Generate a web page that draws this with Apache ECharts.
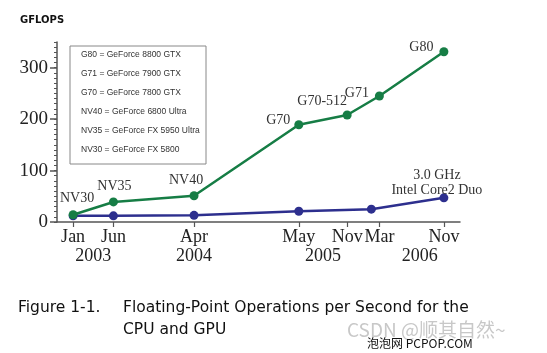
<!DOCTYPE html>
<html>
<head>
<meta charset="utf-8">
<script src="https://cdn.jsdelivr.net/npm/echarts@6/dist/echarts.min.js"></script>
<style>
  html, body { margin: 0; padding: 0; background: #fff; }
  #chart { width: 547px; height: 353px; }
</style>
</head>
<body>
<div id="chart"></div>
<script>
// months counted from Jan 2003 = 0
const tickMonths = [0, 5, 15, 28, 34, 38, 46];
const tickLabels = ["Jan", "Jun", "Apr", "May", "Nov", "Mar", "Nov"];
const yearPos = [2.5, 15, 31, 43];
const yearLabels = ["2003", "2004", "2005", "2006"];
const yTicks = [0, 100, 200, 300];

const gpuMonths = [0, 5, 15, 28, 34, 38, 46];
const gpuValues = [14, 39, 51, 189, 208, 245, 331];
const gpuNames = ["NV30", "NV35", "NV40", "G70", "G70-512", "G71", "G80"];

const cpuMonths = [0, 5, 15, 28, 37, 46];
const cpuValues = [12, 12, 13, 21, 25, 47];
const cpuNote = "3.0 GHz\nIntel Core2 Duo";

const legendLines = [
  "G80 = GeForce 8800 GTX",
  "G71 = GeForce 7900 GTX",
  "G70 = GeForce 7800 GTX",
  "NV40 = GeForce 6800 Ultra",
  "NV35 = GeForce FX 5950 Ultra",
  "NV30 = GeForce FX 5800",
];

const GREEN = "#167d45";
const BLUE = "#2d2f8e";
const AXIS = "#555";
const SERIF = "'Liberation Serif', 'DejaVu Serif', serif";
const SANS = "'DejaVu Sans', sans-serif";

// label placement per GPU point: [position, dx, dy]
const gpuLabelPlace = [
  ["top", 4, 0],
  ["top", 1, 1],
  ["top", -8, 1],
  ["left", 1, -4],
  ["top", -25, 3],
  ["left", -1, -3],
  ["left", -1, -4],
];

const chart = echarts.init(document.getElementById("chart"));

const legendGraphics = [
  {
    type: "rect",
    shape: { x: 70, y: 46, width: 136, height: 118 },
    style: { fill: "#fff", stroke: "#888", lineWidth: 1 },
    z: 10,
  },
].concat(
  legendLines.map((t, i) => ({
    type: "text",
    x: 81,
    y: 55 + i * 19,
    z: 11,
    style: {
      text: t,
      fill: "#333",
      font: "8.5px 'Liberation Sans', sans-serif",
      verticalAlign: "middle",
    },
  }))
);

const option = {
  animation: false,
  backgroundColor: "#fff",
  grid: { left: 57, right: 87, top: 42, bottom: 131 },
  xAxis: [
    {
      type: "value",
      min: -2,
      max: 48,
      position: "bottom",
      splitLine: { show: false },
      axisLine: { onZero: false, lineStyle: { color: AXIS, width: 1.5 } },
      axisTick: {
        customValues: tickMonths,
        length: 5,
        lineStyle: { color: AXIS, width: 1.2 },
      },
      axisLabel: {
        customValues: tickMonths,
        formatter: (v) => tickLabels[tickMonths.indexOf(v)],
        margin: 6,
        color: "#222",
        fontFamily: SERIF,
        fontSize: 18,
      },
    },
    {
      type: "value",
      min: -2,
      max: 48,
      position: "bottom",
      splitLine: { show: false },
      axisLine: { show: false, onZero: false },
      axisTick: { show: false },
      axisLabel: {
        customValues: yearPos,
        formatter: (v) => yearLabels[yearPos.indexOf(v)],
        margin: 25,
        color: "#222",
        fontFamily: SERIF,
        fontSize: 18,
      },
    },
  ],
  yAxis: [
    {
      type: "value",
      min: 0,
      max: 350,
      interval: 10,
      position: "left",
      splitLine: { show: false },
      axisLine: { show: true, onZero: false, lineStyle: { color: AXIS, width: 1.5 } },
      axisTick: { length: 3, lineStyle: { color: AXIS, width: 1 } },
      axisLabel: { show: false },
    },
    {
      type: "value",
      min: 0,
      max: 350,
      position: "left",
      splitLine: { show: false },
      axisLine: { show: false, onZero: false },
      axisTick: {
        customValues: yTicks,
        length: 7,
        lineStyle: { color: AXIS, width: 1.5 },
      },
      axisLabel: {
        customValues: yTicks,
        margin: 9,
        color: "#222",
        fontFamily: SERIF,
        fontSize: 19,
      },
    },
  ],
  series: [
    {
      name: "CPU",
      type: "line",
      xAxisIndex: 0,
      yAxisIndex: 0,
      symbol: "circle",
      symbolSize: 9,
      color: BLUE,
      lineStyle: { color: BLUE, width: 2.5 },
      data: cpuMonths.map((m, i) => {
        const p = { value: [m, cpuValues[i]] };
        if (i === cpuMonths.length - 1) {
          p.label = {
            show: true,
            formatter: cpuNote,
            position: "top",
            offset: [-7, 9],
            color: "#333",
            fontFamily: SERIF,
            fontSize: 14,
            lineHeight: 15,
          };
        }
        return p;
      }),
      z: 3,
    },
    {
      name: "GPU",
      type: "line",
      xAxisIndex: 0,
      yAxisIndex: 0,
      symbol: "circle",
      symbolSize: 9,
      color: GREEN,
      lineStyle: { color: GREEN, width: 2.5 },
      data: gpuMonths.map((m, i) => ({
        value: [m, gpuValues[i]],
        label: {
          show: true,
          formatter: gpuNames[i],
          position: gpuLabelPlace[i][0],
          offset: [gpuLabelPlace[i][1], gpuLabelPlace[i][2]],
          color: "#333",
          fontFamily: SERIF,
          fontSize: 14,
        },
      })),
      z: 4,
    },
  ],
  graphic: legendGraphics.concat([
    {
      type: "text",
      x: 20,
      y: 20,
      style: {
        text: "GFLOPS",
        fill: "#111",
        font: "bold 10px " + SANS,
        verticalAlign: "middle",
      },
    },
    {
      type: "text",
      x: 18,
      y: 308,
      style: {
        text: "Figure 1-1.",
        fill: "#111",
        font: "15.5px " + SANS,
        verticalAlign: "middle",
      },
    },
    {
      type: "text",
      x: 123,
      y: 308,
      style: {
        text: "Floating-Point Operations per Second for the",
        fill: "#111",
        font: "15.5px " + SANS,
        verticalAlign: "middle",
      },
    },
    {
      type: "text",
      x: 123,
      y: 330,
      style: {
        text: "CPU and GPU",
        fill: "#111",
        font: "15.5px " + SANS,
        verticalAlign: "middle",
      },
    },
    {
      type: "text",
      x: 347,
      y: 330,
      style: {
        text: "CSDN @顺其自然~",
        fill: "#c8c8c8",
        font: "19px 'Noto Sans CJK SC', " + SANS,
        verticalAlign: "middle",
      },
    },
    {
      type: "text",
      x: 367,
      y: 343,
      style: {
        text: "泡泡网 PCPOP.COM",
        fill: "#111",
        font: "12px 'Noto Sans CJK SC', " + SANS,
        verticalAlign: "middle",
      },
    },
  ]),
};

chart.setOption(option);
</script>
</body>
</html>
